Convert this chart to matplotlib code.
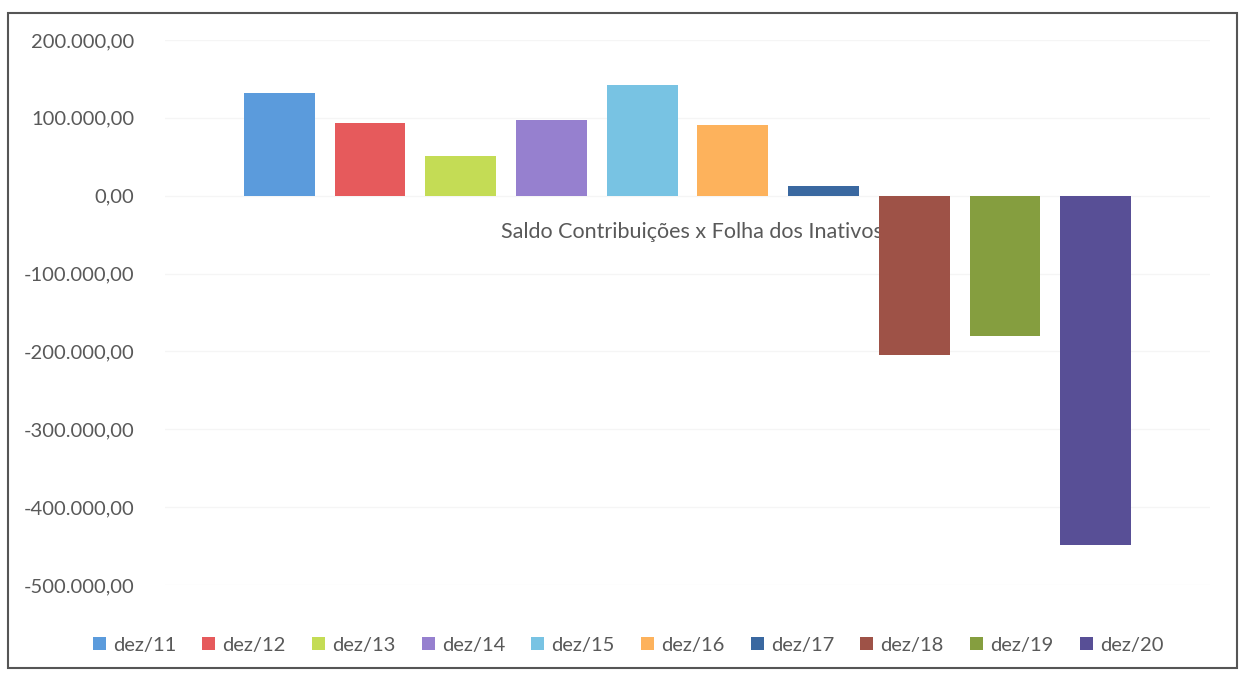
import matplotlib
matplotlib.use("Agg")
import matplotlib.pyplot as plt
from matplotlib.patches import Rectangle
from matplotlib.ticker import FuncFormatter

categories = ["dez/11", "dez/12", "dez/13", "dez/14", "dez/15",
              "dez/16", "dez/17", "dez/18", "dez/19", "dez/20"]
values = [132000, 93000, 51000, 97000, 142000, 91000, 13000,
          -205000, -180000, -448000]
colors = ["#5B9BDC", "#E65A5C", "#C4DC55", "#9680CF", "#78C3E3",
          "#FDB25C", "#3A68A0", "#9E5247", "#859E3F", "#584F96"]
title = "Saldo Contribuições x Folha dos Inativos"

plt.rcParams['font.family'] = ['Lato', 'DejaVu Sans']

fig = plt.figure(figsize=(12.41, 6.74), dpi=100)
W, H = 1241, 674
ax = fig.add_axes([165 / W, 1 - 585 / H, (1210 - 165) / W, (585 - 40) / H])

for i, (c, v, col) in enumerate(zip(categories, values, colors)):
    ax.bar(i, v, width=0.78, color=col, label=c, zorder=3)

ax.set_xlim(-1.26, 10.26)
ax.set_ylim(-500000, 200000)
ax.set_yticks(range(-500000, 200001, 100000))

def fmt(v, pos):
    s = f"{abs(v):,.2f}".replace(",", "X").replace(".", ",").replace("X", ".")
    return ("-" if v < 0 else "") + s

ax.yaxis.set_major_formatter(FuncFormatter(fmt))
ax.tick_params(axis='y', length=0, labelsize=14.5, labelcolor="#595959", pad=22)
ax.set_xticks([])
for s in ax.spines.values():
    s.set_visible(False)
ax.grid(axis='y', color="#F5F5F5", linewidth=1, zorder=0)

ax.text(4.55, -46000, title, ha='center', va='center', fontsize=15.5,
        color="#595959", zorder=2)

leg = fig.legend(loc='center', bbox_to_anchor=(628 / W, 1 - 645 / H), ncol=10,
                 frameon=False, fontsize=14.5, handlelength=0.65, handleheight=0.65,
                 handletextpad=0.35, columnspacing=1.3, labelcolor="#595959")

fig.patches.append(Rectangle((8 / W, 1 - 668 / H), (1237 - 8) / W, (668 - 13) / H,
                             transform=fig.transFigure, fill=False,
                             edgecolor="#555555", linewidth=1.5))

fig.savefig("out.png", dpi=100, facecolor="white")
